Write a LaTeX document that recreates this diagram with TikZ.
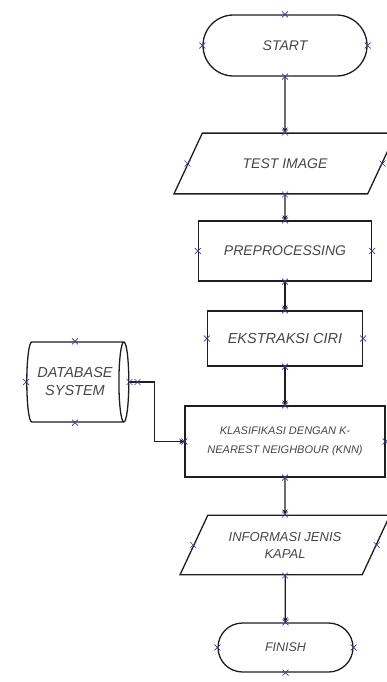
\documentclass[tikz,border=0pt]{standalone}
\usepackage{fontspec}
\setmainfont{Liberation Sans}
\usepackage{tikz}
\usetikzlibrary{shapes.geometric, shapes.misc, arrows.meta}
\definecolor{linecol}{RGB}{30,30,30}
\definecolor{textcol}{RGB}{70,70,70}
\definecolor{pointcol}{RGB}{60,60,140}
\tikzset{
    terminal/.style={rounded rectangle, draw=linecol, line width=1.3pt, text=textcol, align=center, inner sep=0pt},
    process/.style={rectangle, draw=linecol, line width=1.3pt, text=textcol, align=center, inner sep=0pt},
    io/.style={trapezium, trapezium left angle=65, trapezium right angle=115, trapezium stretches body, draw=linecol, line width=1.3pt, text=textcol, align=center, inner xsep=0pt},
    storage/.style={cylinder, aspect=0.35, draw=linecol, line width=1.3pt, text=textcol, align=center, inner sep=0pt},
    flow/.style={-{Stealth[length=5pt,width=5pt]}, draw=linecol, line width=1.3pt},
    xmark/.style={draw=pointcol, line width=0.6pt}
}

\begin{document}
\begin{tikzpicture}[x=1pt, y=-1pt]
    \useasboundingbox (0,0) rectangle (387,682);
    % Steps
    \node[terminal, minimum width=164pt, minimum height=61pt, font=\itshape\fontsize{14}{17}\selectfont] (start) at (285,45.5) {START};
    \node[io, minimum width=222pt, inner ysep=25.4pt, font=\itshape\fontsize{14}{17}\selectfont] (test) at (285,163.5) {TEST IMAGE};
    \node[process, minimum width=173pt, minimum height=60pt, font=\itshape\fontsize{14}{17}\selectfont] (prep) at (285,251) {PREPROCESSING};
    \node[process, minimum width=155pt, minimum height=55pt, font=\itshape\fontsize{14.5}{17}\selectfont] (ciri) at (285,338.5) {EKSTRAKSI CIRI};
    \node[process, minimum width=200pt, minimum height=71pt, font=\itshape\fontsize{11}{19}\selectfont] (knn) at (285,441.5) {KLASIFIKASI DENGAN K-\\NEAREST NEIGHBOUR (KNN)};
    \node[io, minimum width=210pt, inner ysep=16.8pt, font=\itshape\fontsize{13}{17}\selectfont] (info) at (285,545) {INFORMASI JENIS\\KAPAL};
    \node[terminal, minimum width=135pt, minimum height=49pt, font=\itshape\fontsize{12.5}{15}\selectfont] (finish) at (285.5,647.5) {FINISH};
    \node[storage, minimum width=80pt, minimum height=102pt, font=\itshape\fontsize{14.5}{18}\selectfont] (db) at (75,382) {DATABASE\\SYSTEM};

    % Flow
    \draw[flow] (start) -- (test);
    \draw[flow] (test) -- (prep);
    \draw[flow] (prep) -- (ciri);
    \draw[flow] (ciri) -- (knn);
    \draw[flow] (knn) -- (info);
    \draw[flow] (info) -- (finish);
    \draw[flow] (db.east) -- ++(25,0) |- (knn.west);

    % Connection points
    \foreach \n/\a in {start/north, start/south, start/west, start/east,
                       test/north, test/south, test/left side, test/right side,
                       prep/north, prep/south, prep/west, prep/east,
                       ciri/north, ciri/south, ciri/west, ciri/east,
                       knn/north, knn/south, knn/west, knn/east,
                       info/north, info/south, info/left side, info/right side,
                       finish/north, finish/south, finish/west, finish/east,
                       db/north, db/south, db/west, db/east}
        \draw[xmark] (\n.\a) +(-3,-3) -- +(3,3) +(-3,3) -- +(3,-3);
    \draw[xmark] (db.east) +(5,-3) -- +(11,3) +(5,3) -- +(11,-3);
\end{tikzpicture}
\end{document}
